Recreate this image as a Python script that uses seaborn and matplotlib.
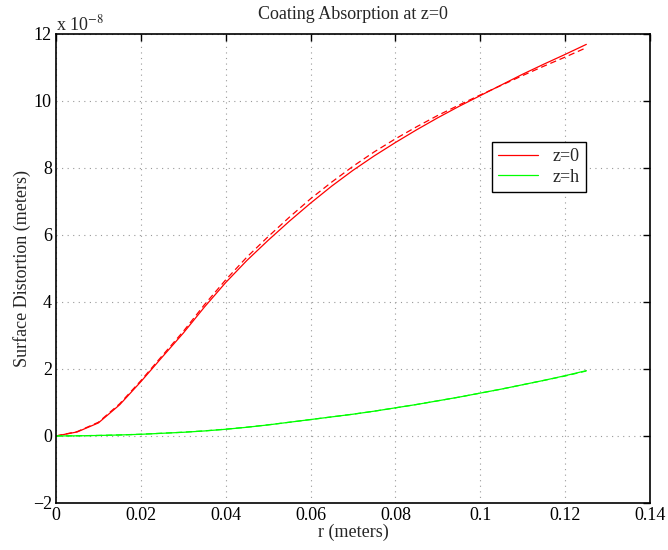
import matplotlib
matplotlib.use("Agg")
import matplotlib.pyplot as plt
import seaborn as sns
import pandas as pd
from matplotlib.lines import Line2D

# radius (meters)
r = [0.0, 0.005, 0.01, 0.015, 0.02, 0.025, 0.03, 0.035, 0.04, 0.045, 0.05, 0.055,
     0.06, 0.065, 0.07, 0.075, 0.08, 0.085, 0.09, 0.095, 0.1, 0.105, 0.11, 0.115,
     0.12, 0.125]

# surface distortion, units of 1e-8 m
z0_solid = [0.0, 0.12, 0.39, 0.93, 1.62, 2.35, 3.07, 3.85, 4.58, 5.24, 5.84, 6.41,
            6.95, 7.46, 7.93, 8.36, 8.76, 9.14, 9.5, 9.84, 10.16, 10.48, 10.8, 11.1,
            11.39, 11.69]
z0_dashed = [0.0, 0.13, 0.41, 0.96, 1.65, 2.39, 3.12, 3.92, 4.66, 5.34, 5.95, 6.53,
             7.08, 7.58, 8.05, 8.48, 8.87, 9.23, 9.57, 9.88, 10.18, 10.47, 10.76, 11.04,
             11.31, 11.59]
zh_solid = [0.0, 0.005, 0.015, 0.03, 0.05, 0.08, 0.11, 0.15, 0.2, 0.26, 0.33, 0.41,
            0.49, 0.57, 0.65, 0.74, 0.84, 0.94, 1.05, 1.16, 1.28, 1.4, 1.53, 1.66,
            1.8, 1.95]
zh_dashed = [0.0, 0.005, 0.016, 0.031, 0.052, 0.082, 0.113, 0.153, 0.203, 0.263, 0.333, 0.41,
             0.49, 0.57, 0.65, 0.74, 0.84, 0.94, 1.05, 1.16, 1.28, 1.4, 1.53, 1.66,
             1.79, 1.94]

rows = []
for case, kind, vals in [("z=0", "solid", z0_solid), ("z=0", "dashed", z0_dashed),
                         ("z=h", "solid", zh_solid), ("z=h", "dashed", zh_dashed)]:
    for x, v in zip(r, vals):
        rows.append({"r": x, "d": v, "case": case, "kind": kind})
df = pd.DataFrame(rows)

sns.set_theme(style="white")
plt.rcParams["font.family"] = ["Liberation Serif", "DejaVu Serif"]
plt.rcParams["mathtext.fontset"] = "stix"
plt.rcParams["font.size"] = 13

fig = plt.figure(figsize=(6.68, 5.5), dpi=100)
ax = fig.add_axes([0.0838, 0.0855, 0.8892, 0.8527])

colors = {"z=0": "#ff0000", "z=h": "#00ff00"}
sns.lineplot(data=df, x="r", y="d", hue="case", style="kind", palette=colors,
             dashes={"solid": "", "dashed": (5, 3)}, linewidth=0.9, legend=False,
             estimator=None, sort=False, ax=ax)

ax.set_xlim(0, 0.14)
ax.set_ylim(-2, 12)
ax.set_xticks([0, 0.02, 0.04, 0.06, 0.08, 0.1, 0.12, 0.14])
ax.set_xticklabels(["0", "0.02", "0.04", "0.06", "0.08", "0.1", "0.12", "0.14"])
ax.set_yticks([-2, 0, 2, 4, 6, 8, 10, 12])
ax.set_yticklabels(["\u22122", "0", "2", "4", "6", "8", "10", "12"])
ax.tick_params(direction="in", length=5, width=1.0, top=True, right=True,
               labelsize=13, colors="black", pad=3)
ax.grid(True, linestyle=(0, (1, 4)), color="#999999", linewidth=0.8)
for s in ax.spines.values():
    s.set_color("black")
    s.set_linewidth(1.2)

ax.set_xlabel("r (meters)", fontsize=13, labelpad=0)
ax.set_ylabel("Surface Distortion (meters)", fontsize=13, labelpad=1)
ax.set_title("Coating Absorption at z=0", fontsize=13, pad=11)
ax.text(0.0, 1.0, r"x 10$^{-8}$", transform=ax.transAxes, fontsize=13,
        ha="left", va="bottom")

handles = [Line2D([], [], color=colors["z=0"], linewidth=0.9),
           Line2D([], [], color=colors["z=h"], linewidth=0.9)]
leg = ax.legend(handles, ["z=0", "z=h"], loc="upper left",
                bbox_to_anchor=(0.734, 0.77), borderaxespad=0, fancybox=False,
                framealpha=1, edgecolor="black", fontsize=13, handlelength=2.2,
                borderpad=0.35, labelspacing=0.2, handletextpad=0.8)
leg.get_frame().set_linewidth(1.0)

fig.savefig("out.png", dpi=100)
